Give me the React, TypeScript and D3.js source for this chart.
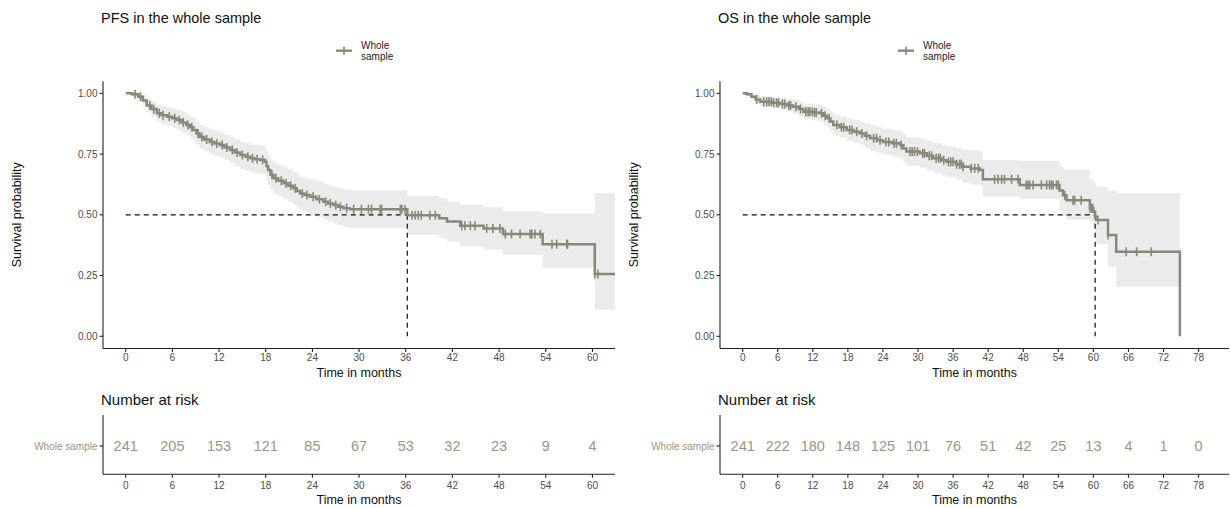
import React from "react";
import * as d3 from "d3";

// ---------- PFS data ----------
const PFS_TIME = [0, 0.8, 1.6, 2.2, 2.7, 3.3, 4.0, 4.6, 5.3, 6.0, 6.6, 7.2, 7.8, 8.3, 8.7, 9.1, 9.5, 10.1, 10.8, 11.4, 12.1, 12.7, 13.4, 14.0, 14.7, 15.4, 16.0, 16.6, 17.3, 17.9, 18.1, 18.3, 18.6, 19.0, 19.6, 20.3, 20.9, 21.5, 22.0, 22.4, 23.0, 23.7, 24.5, 25.4, 26.0, 26.7, 27.3, 28.0, 28.8, 36.2, 40.3, 41.3, 43.0, 46.0, 48.5, 53.6, 60.3];
const PFS_SURV = [1, 0.996, 0.986, 0.97, 0.95, 0.935, 0.918, 0.91, 0.904, 0.897, 0.89, 0.88, 0.87, 0.86, 0.849, 0.835, 0.82, 0.81, 0.8, 0.793, 0.787, 0.777, 0.767, 0.756, 0.746, 0.739, 0.733, 0.729, 0.726, 0.718, 0.7, 0.684, 0.665, 0.65, 0.64, 0.63, 0.62, 0.609, 0.598, 0.588, 0.581, 0.574, 0.564, 0.554, 0.547, 0.54, 0.533, 0.527, 0.523, 0.498, 0.486, 0.472, 0.455, 0.444, 0.421, 0.379, 0.256];
const PFS_UPPER = [1, 1, 1, 0.992, 0.978, 0.966, 0.953, 0.947, 0.942, 0.937, 0.931, 0.923, 0.914, 0.905, 0.896, 0.883, 0.869, 0.86, 0.851, 0.845, 0.839, 0.83, 0.821, 0.811, 0.802, 0.796, 0.79, 0.787, 0.784, 0.777, 0.76, 0.745, 0.727, 0.713, 0.704, 0.695, 0.686, 0.676, 0.666, 0.657, 0.651, 0.645, 0.636, 0.627, 0.621, 0.615, 0.609, 0.604, 0.6, 0.578, 0.568, 0.555, 0.54, 0.531, 0.515, 0.505, 0.59];
const PFS_LOWER = [1, 0.988, 0.971, 0.949, 0.923, 0.904, 0.884, 0.874, 0.866, 0.858, 0.849, 0.838, 0.826, 0.815, 0.803, 0.788, 0.771, 0.76, 0.749, 0.741, 0.735, 0.724, 0.713, 0.701, 0.69, 0.682, 0.676, 0.671, 0.668, 0.659, 0.64, 0.623, 0.603, 0.587, 0.576, 0.565, 0.554, 0.542, 0.53, 0.519, 0.511, 0.503, 0.492, 0.481, 0.473, 0.465, 0.457, 0.45, 0.446, 0.418, 0.404, 0.389, 0.37, 0.357, 0.335, 0.28, 0.11];
const PFS_END = 62.9;
const PFS_MEDIAN = 36.2;
const PFS_CENSOR = [1.2, 1.9, 3.1, 3.6, 4.3, 4.8, 5.6, 6.3, 6.9, 7.4, 8.0, 8.5, 9.3, 9.8, 10.4, 11.1, 11.7, 12.4, 13.0, 13.7, 14.3, 15.0, 15.7, 16.3, 16.9, 17.6, 18.8, 19.3, 20.0, 20.6, 21.2, 21.8, 22.7, 23.3, 24.1, 24.9, 25.7, 26.3, 27.0, 27.6, 28.4, 29.3, 30.3, 31.2, 31.6, 32.7, 32.9, 35.3, 35.5, 35.9, 36.8, 37.2, 37.6, 38.0, 39.1, 39.8, 43.2, 43.6, 44.3, 44.9, 46.4, 47.2, 48.1, 48.8, 49.6, 50.7, 52.0, 52.2, 52.6, 53.3, 54.8, 55.4, 56.7, 56.8, 60.3, 60.7];
const PFS_TICKS = [0, 6, 12, 18, 24, 30, 36, 42, 48, 54, 60];
const PFS_RISK = [241, 205, 153, 121, 85, 67, 53, 32, 23, 9, 4];

// ---------- OS data ----------
const OS_TIME = [0, 0.7, 1.5, 2.2, 3.0, 5.0, 6.4, 7.6, 8.6, 9.6, 10.4, 12.0, 13.2, 13.8, 14.4, 15.0, 15.5, 16.6, 17.8, 19.0, 20.0, 20.9, 21.8, 23.0, 24.0, 25.5, 26.9, 27.5, 28.0, 30.3, 31.5, 32.6, 34.0, 34.9, 36.5, 37.7, 39.0, 40.6, 41.1, 47.4, 54.2, 54.8, 55.4, 59.4, 60.0, 60.3, 60.5, 62.5, 63.9, 74.8];
const OS_SURV = [1, 0.996, 0.986, 0.975, 0.965, 0.961, 0.956, 0.95, 0.945, 0.935, 0.924, 0.921, 0.918, 0.908, 0.897, 0.884, 0.87, 0.86, 0.849, 0.842, 0.835, 0.825, 0.815, 0.807, 0.8, 0.794, 0.787, 0.773, 0.76, 0.753, 0.743, 0.733, 0.725, 0.718, 0.708, 0.698, 0.691, 0.684, 0.646, 0.623, 0.6, 0.58, 0.56, 0.527, 0.513, 0.492, 0.479, 0.417, 0.348, 0];
const OS_UPPER = [1, 1, 0.999, 0.994, 0.987, 0.984, 0.98, 0.976, 0.972, 0.965, 0.957, 0.955, 0.952, 0.944, 0.935, 0.925, 0.913, 0.905, 0.896, 0.89, 0.884, 0.876, 0.867, 0.86, 0.854, 0.849, 0.843, 0.831, 0.819, 0.813, 0.804, 0.795, 0.788, 0.782, 0.775, 0.768, 0.765, 0.762, 0.726, 0.722, 0.7, 0.69, 0.685, 0.645, 0.635, 0.625, 0.615, 0.6, 0.59, null];
const OS_LOWER = [1, 0.988, 0.972, 0.956, 0.943, 0.938, 0.932, 0.924, 0.917, 0.905, 0.892, 0.888, 0.884, 0.872, 0.86, 0.845, 0.829, 0.817, 0.804, 0.796, 0.788, 0.776, 0.764, 0.755, 0.747, 0.74, 0.732, 0.716, 0.702, 0.694, 0.683, 0.672, 0.663, 0.655, 0.645, 0.632, 0.625, 0.62, 0.575, 0.565, 0.515, 0.495, 0.48, 0.47, 0.445, 0.42, 0.38, 0.286, 0.204, null];
const OS_END = 74.8;
const OS_MEDIAN = 60.3;
const OS_CENSOR = [2.4, 3.6, 4.1, 4.5, 4.9, 5.3, 5.8, 6.1, 6.8, 7.2, 7.9, 8.2, 9.1, 9.9, 10.8, 11.2, 11.5, 11.9, 12.3, 12.6, 13.5, 14.1, 14.8, 16.1, 16.9, 17.3, 18.3, 18.7, 19.5, 20.4, 21.2, 22.4, 22.9, 23.5, 24.5, 25.0, 25.9, 26.3, 27.1, 28.6, 29.0, 29.4, 29.9, 30.8, 31.1, 31.9, 32.3, 33.1, 33.5, 33.8, 34.4, 35.2, 35.6, 36.0, 36.6, 37.1, 37.4, 37.7, 39.1, 39.7, 40.3, 43.1, 43.7, 44.3, 44.8, 46.0, 47.1, 48.5, 48.8, 49.1, 49.7, 51.1, 52.0, 52.5, 52.8, 53.1, 53.7, 54.0, 55.1, 56.5, 56.8, 57.9, 59.4, 59.7, 59.9, 60.8, 62.5, 65.6, 67.4, 69.9];
const OS_TICKS = [0, 6, 12, 18, 24, 30, 36, 42, 48, 54, 60, 66, 72, 78];
const OS_RISK = [241, 222, 180, 148, 125, 101, 76, 51, 42, 25, 13, 4, 1, 0];

const Y_TICKS = [0, 0.25, 0.5, 0.75, 1];
const GROUP = "Whole sample";

const FONT = "'Liberation Sans', Arial, Helvetica, sans-serif";
const CURVE = "#8b8777";
const BAND = "#eaebeb";
const RISKCOL = "#9c9584";
const AXIS = "#222";
const TICKTXT = "#4d4d4d";

type PanelProps = {
  title: string;
  times: number[];
  surv: number[];
  upper: (number | null)[];
  lower: (number | null)[];
  end: number;
  median: number;
  censor: number[];
  ticks: number[];
  risk: number[];
  domain: [number, number];
  range: [number, number];
  ylabX: number;
  legendX: number;
};

function Panel(p: PanelProps) {
  const x = d3.scaleLinear().domain(p.domain).range(p.range);
  const y = d3.scaleLinear().domain([0, 1]).range([336.3, 93.3]);
  const yTop = y(1.05);
  const yBot = y(-0.05);
  const axX = p.range[0];

  const pts: [number, number][] = p.times.map((t, i) => [t, p.surv[i]]);
  pts.push([p.end, p.surv[p.surv.length - 1]]);
  const line = d3
    .line<[number, number]>()
    .curve(d3.curveStepAfter)
    .x((d) => x(d[0]))
    .y((d) => y(d[1]));

  const band: { t: number; u: number; l: number }[] = [];
  p.times.forEach((t, i) => {
    const u = p.upper[i];
    const l = p.lower[i];
    if (u != null && l != null) band.push({ t, u, l });
  });
  const lastB = band[band.length - 1];
  band.push({ t: p.end, u: lastB.u, l: lastB.l });
  const area = d3
    .area<{ t: number; u: number; l: number }>()
    .curve(d3.curveStepAfter)
    .x((d) => x(d.t))
    .y0((d) => y(d.l))
    .y1((d) => y(d.u));

  const survAt = (c: number) => {
    const i = d3.bisectRight(p.times, c) - 1;
    return p.surv[Math.max(0, i)];
  };

  const rTop = 415;
  const rAxis = 474.3;
  const rRow = 446;

  return (
    <g fontFamily={FONT}>
      <text x={axX - 2} y={23} fontSize={14.5} fill="#111">
        {p.title}
      </text>
      {/* legend */}
      <line x1={p.legendX} x2={p.legendX + 16} y1={50.7} y2={50.7} stroke={CURVE} strokeWidth={2.4} />
      <line x1={p.legendX + 8} x2={p.legendX + 8} y1={46.5} y2={55} stroke={CURVE} strokeWidth={1.6} />
      <text x={p.legendX + 25} y={48.5} fontSize={10} fill="#222">Whole</text>
      <text x={p.legendX + 25} y={60} fontSize={10} fill="#222">sample</text>

      <path d={area(band) || ""} fill={BAND} />
      <line x1={x(0)} x2={x(p.median)} y1={y(0.5)} y2={y(0.5)} stroke="#111" strokeWidth={1.2} strokeDasharray="5,4" />
      <line x1={x(p.median)} x2={x(p.median)} y1={y(0.5)} y2={y(0)} stroke="#111" strokeWidth={1.2} strokeDasharray="5,4" />
      <path d={line(pts) || ""} fill="none" stroke={CURVE} strokeWidth={2.5} />
      {p.censor.map((c, i) => (
        <line key={i} x1={x(c)} x2={x(c)} y1={y(survAt(c)) - 4.5} y2={y(survAt(c)) + 4.5} stroke={CURVE} strokeWidth={1.6} />
      ))}

      <line x1={axX} x2={axX} y1={yTop} y2={yBot} stroke={AXIS} strokeWidth={1.1} />
      <line x1={axX} x2={p.range[1]} y1={yBot} y2={yBot} stroke={AXIS} strokeWidth={1.1} />
      {Y_TICKS.map((v) => (
        <g key={v}>
          <line x1={axX - 3.5} x2={axX} y1={y(v)} y2={y(v)} stroke={AXIS} strokeWidth={1.1} />
          <text x={axX - 5.5} y={y(v) + 3.5} fontSize={10} fill={TICKTXT} textAnchor="end">
            {v.toFixed(2)}
          </text>
        </g>
      ))}
      {p.ticks.map((t) => (
        <g key={t}>
          <line x1={x(t)} x2={x(t)} y1={yBot} y2={yBot + 3.5} stroke={AXIS} strokeWidth={1.1} />
          <text x={x(t)} y={yBot + 13} fontSize={10} fill={TICKTXT} textAnchor="middle">
            {t}
          </text>
        </g>
      ))}
      <text x={(axX + p.range[1]) / 2} y={377} fontSize={12.5} fill="#111" textAnchor="middle">
        Time in months
      </text>
      <text
        transform={`translate(${p.ylabX},${y(0.5)}) rotate(-90)`}
        fontSize={12.5}
        fill="#111"
        textAnchor="middle"
      >
        Survival probability
      </text>

      <text x={axX - 2} y={405} fontSize={15} fill="#111">
        Number at risk
      </text>
      <line x1={axX} x2={axX} y1={rTop} y2={rAxis} stroke={AXIS} strokeWidth={1.1} />
      <line x1={axX} x2={p.range[1]} y1={rAxis} y2={rAxis} stroke={AXIS} strokeWidth={1.1} />
      <line x1={axX - 3.5} x2={axX} y1={rRow} y2={rRow} stroke={AXIS} strokeWidth={1.1} />
      <text x={axX - 5.5} y={rRow + 3.5} fontSize={10} fill={RISKCOL} textAnchor="end">
        {GROUP}
      </text>
      {p.ticks.map((t, i) => (
        <g key={t}>
          <text x={x(t)} y={rRow + 5} fontSize={14.5} fill={RISKCOL} textAnchor="middle">
            {p.risk[i]}
          </text>
          <line x1={x(t)} x2={x(t)} y1={rAxis} y2={rAxis + 3.5} stroke={AXIS} strokeWidth={1.1} />
          <text x={x(t)} y={rAxis + 15} fontSize={10} fill={TICKTXT} textAnchor="middle">
            {t}
          </text>
        </g>
      ))}
      <text x={(axX + p.range[1]) / 2} y={504} fontSize={12.5} fill="#111" textAnchor="middle">
        Time in months
      </text>
    </g>
  );
}

export default function App() {
  return (
    <svg
      width={1231}
      height={508}
      style={{ position: "absolute", left: 0, top: 0, background: "#fff" }}
    >
      <rect width={1231} height={508} fill="#fff" />
      <Panel
        title="PFS in the whole sample"
        times={PFS_TIME}
        surv={PFS_SURV}
        upper={PFS_UPPER}
        lower={PFS_LOWER}
        end={PFS_END}
        median={PFS_MEDIAN}
        censor={PFS_CENSOR}
        ticks={PFS_TICKS}
        risk={PFS_RISK}
        domain={[-2.92, 62.9]}
        range={[103, 615]}
        ylabX={21}
        legendX={336}
      />
      <Panel
        title="OS in the whole sample"
        times={OS_TIME}
        surv={OS_SURV}
        upper={OS_UPPER}
        lower={OS_LOWER}
        end={OS_END}
        median={OS_MEDIAN}
        censor={OS_CENSOR}
        ticks={OS_TICKS}
        risk={OS_RISK}
        domain={[-3.88, 83.2]}
        range={[720, 1229]}
        ylabX={638}
        legendX={898}
      />
    </svg>
  );
}
